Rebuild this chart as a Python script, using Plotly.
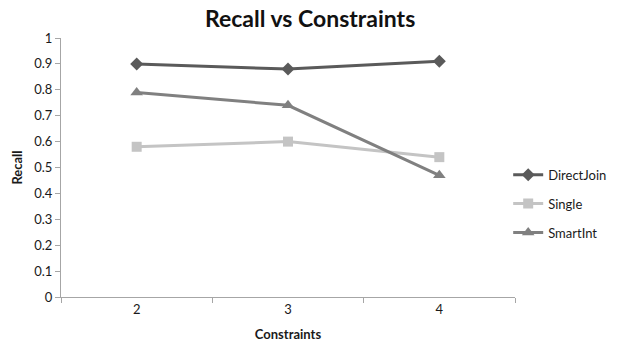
import plotly.graph_objects as go

categories = ["2", "3", "4"]
direct_join = [0.90, 0.88, 0.91]
single = [0.58, 0.60, 0.54]
smart_int = [0.79, 0.74, 0.47]
y_ticks = [0, 0.1, 0.2, 0.3, 0.4, 0.5, 0.6, 0.7, 0.8, 0.9, 1]
y_tick_labels = ["0", "0.1", "0.2", "0.3", "0.4", "0.5", "0.6", "0.7", "0.8", "0.9", "1"]

FONT = "Lato, 'Open Sans', sans-serif"

fig = go.Figure()
fig.add_trace(go.Scatter(x=categories, y=direct_join, name="DirectJoin", mode="lines+markers",
                         legendgroup="a",
                         line=dict(color="#5a5a5a", width=3),
                         marker=dict(symbol="diamond", size=10, color="#5a5a5a")))
fig.add_trace(go.Scatter(x=categories, y=single, name="Single", mode="lines+markers",
                         legendgroup="b",
                         line=dict(color="#c4c4c4", width=3),
                         marker=dict(symbol="square", size=10, color="#c4c4c4")))
fig.add_trace(go.Scatter(x=categories, y=smart_int, name="SmartInt", mode="lines+markers",
                         legendgroup="c",
                         line=dict(color="#808080", width=3),
                         marker=dict(symbol="triangle-up", size=11, color="#808080")))

fig.update_layout(
    width=624, height=344,
    margin=dict(l=61, r=102, t=38, b=47),
    paper_bgcolor="white", plot_bgcolor="white",
    font=dict(family=FONT, size=13, color="#1a1a1a"),
    title=dict(text="<b>Recall vs Constraints</b>", x=0.497, xanchor="center", y=0.945, yanchor="middle",
               font=dict(size=23, family=FONT, color="#111111")),
    showlegend=True,
    legend=dict(x=0.985, xanchor="left", y=0.36, yanchor="middle",
                font=dict(size=13, family=FONT), itemwidth=30, tracegroupgap=9,
                bgcolor="rgba(0,0,0,0)"),
    xaxis=dict(type="category", range=[-0.5, 2.5], showgrid=False, showline=True,
               linecolor="#a6a6a6", linewidth=1, automargin=False,
               ticks="outside", tickson="boundaries", ticklen=5, tickcolor="#a6a6a6",
               tickfont=dict(size=13), zeroline=False,
               title=dict(text="<b>Constraints</b>", font=dict(size=13), standoff=14)),
    yaxis=dict(range=[0, 1], tickvals=y_ticks, ticktext=y_tick_labels, showgrid=False,
               showline=True, linecolor="#a6a6a6", linewidth=1, ticks="outside", ticklen=5,
               automargin=False,
               tickcolor="#a6a6a6", tickfont=dict(size=13), zeroline=False,
               title=dict(text="<b>Recall</b>", font=dict(size=13), standoff=8)),
)

fig.write_html("out.html")
